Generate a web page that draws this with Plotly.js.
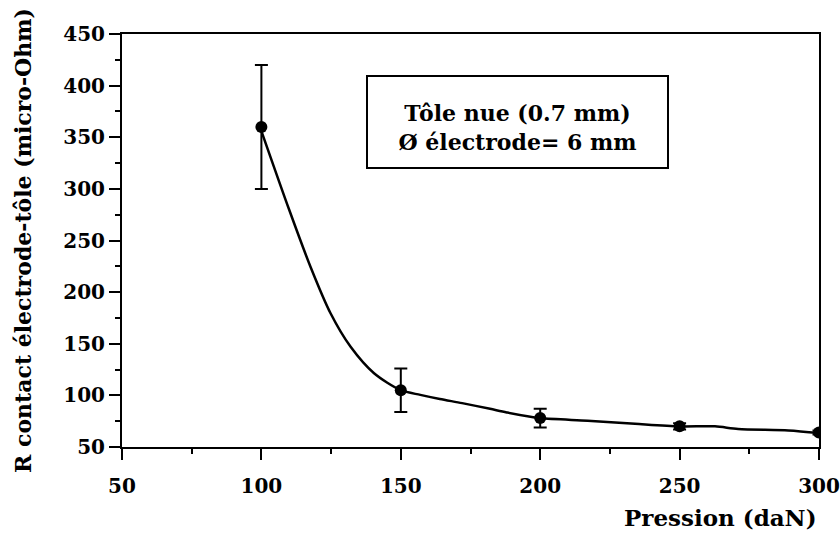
<!DOCTYPE html>
<html>
<head>
<meta charset="utf-8">
<script src="https://cdn.plot.ly/plotly-3.0.1.min.js"></script>
<style>html,body{margin:0;padding:0;background:#fff;}#chart{width:840px;height:538px;}</style>
</head>
<body>
<div id="chart"></div>
<script>
// Measured points (pressure in daN, contact resistance in micro-Ohm)
var pressure = [100, 150, 200, 250, 300];
var resistance = [360, 105, 78, 70, 64];
var errPlus = [60, 21, 9, 3, 2];
var errMinus = [60, 21, 9, 3, 2];

// Smooth fitted curve
var curveX = [100, 110, 117.6, 124.8, 132, 140.4, 150, 157, 164, 172, 182, 188, 200, 217, 234, 250, 262.7, 271, 289, 300];
var curveY = [356, 279.5, 224.6, 179.5, 147, 121.4, 105, 100.5, 96.5, 92.5, 87, 83.5, 78, 75.5, 72.5, 70, 70, 67.5, 66, 63.5];

var xTicks = [50, 100, 150, 200, 250, 300];
var yTicks = [50, 100, 150, 200, 250, 300, 350, 400, 450];

var xTitle = 'Pression (daN)';
var yTitle = 'R contact électrode-tôle (micro-Ohm)';
var boxText = 'Tôle nue (0.7 mm)<br>Ø électrode= 6 mm';

var serif = 'DejaVu Serif, Liberation Serif, serif';
var boldFont = function (s) { return {family: serif, size: s, color: '#000', weight: 'bold'}; };

var traces = [
  {
    x: curveX, y: curveY, type: 'scatter', mode: 'lines',
    line: {color: '#000', width: 2.5, shape: 'spline', smoothing: 0.8},
    hoverinfo: 'skip', showlegend: false
  },
  {
    x: pressure, y: resistance, type: 'scatter', mode: 'markers',
    marker: {color: '#000', size: 12, symbol: 'circle'},
    error_y: {type: 'data', array: errPlus, arrayminus: errMinus, symmetric: false,
              color: '#000', thickness: 2, width: 6.5, visible: true},
    showlegend: false
  }
];

var layout = {
  width: 840, height: 538,
  margin: {l: 122, r: 21, t: 34, b: 91},
  paper_bgcolor: '#fff', plot_bgcolor: '#fff',
  showlegend: false,
  xaxis: {
    range: [50, 300], tickmode: 'array', tickvals: xTicks, ticktext: xTicks.map(String),
    showgrid: false, zeroline: false,
    showline: true, linecolor: '#000', linewidth: 2, mirror: true,
    ticks: 'outside', ticklen: 11, tickwidth: 2, tickcolor: '#000',
    minor: {dtick: 25, ticks: 'outside', ticklen: 5, tickwidth: 2, tickcolor: '#000', showgrid: false},
    tickfont: boldFont(20), ticklabelstandoff: 9
  },
  yaxis: {
    range: [50, 450], tickmode: 'array', tickvals: yTicks, ticktext: yTicks.map(String),
    showgrid: false, zeroline: false,
    showline: true, linecolor: '#000', linewidth: 2, mirror: true,
    ticks: 'outside', ticklen: 11, tickwidth: 2, tickcolor: '#000',
    minor: {dtick: 25, ticks: 'outside', ticklen: 5, tickwidth: 2, tickcolor: '#000', showgrid: false},
    tickfont: boldFont(20),
    title: {text: yTitle, font: boldFont(22), standoff: 26}
  },
  annotations: [
    {
      xref: 'paper', yref: 'paper', x: 1, y: 0, yshift: -70, xanchor: 'right', yanchor: 'middle',
      text: xTitle, showarrow: false, font: boldFont(23)
    },
    {
      xref: 'x', yref: 'y', x: 192, y: 365, xanchor: 'center', yanchor: 'middle',
      text: boxText, showarrow: false, font: boldFont(22),
      bordercolor: '#000', borderwidth: 2, borderpad: 12, bgcolor: '#fff',
      width: 275, height: 66, align: 'center', valign: 'bottom'
    }
  ]
};

Plotly.newPlot('chart', traces, layout, {staticPlot: true, displayModeBar: false});
</script>
</body>
</html>
